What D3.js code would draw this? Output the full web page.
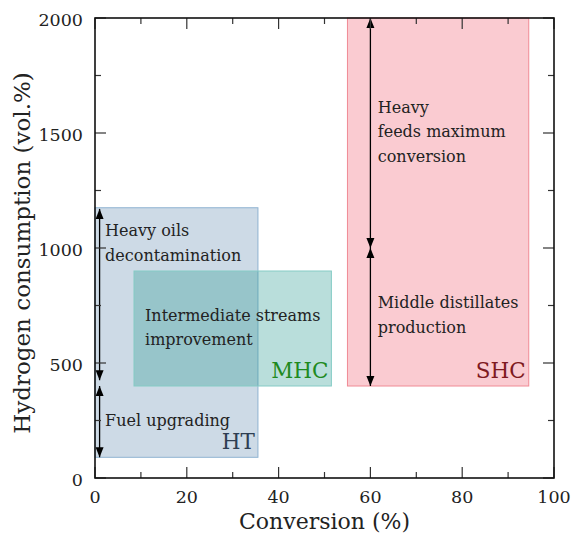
<!DOCTYPE html>
<html>
<head>
<meta charset="utf-8">
<script src="https://cdn.jsdelivr.net/npm/d3@7"></script>
<style>
  body { margin: 0; background: #fff; }
</style>
</head>
<body>
<div id="chart"></div>
<script>
// process windows: conversion (%) vs hydrogen consumption (vol.%)
const processes = ['HT', 'MHC', 'SHC'];
const convMin = [0, 8.5, 55];
const convMax = [35.5, 51.5, 94.5];
const h2Min = [90, 400, 400];
const h2Max = [1175, 900, 2000];

// double arrows: [x, from, to]
const arrows = [
  [1, 1170, 425],
  [1, 400, 90],
  [60, 2000, 1000],
  [60, 1000, 400]
];

// annotation lines: [x, y, text]
const notes = [
  [2.2, 1052, 'Heavy oils'],
  [2.2, 943, 'decontamination'],
  [10.9, 684, 'Intermediate streams'],
  [10.9, 578, 'improvement'],
  [2.2, 226, 'Fuel upgrading'],
  [61.6, 1587, 'Heavy'],
  [61.6, 1483, 'feeds maximum'],
  [61.6, 1374, 'conversion'],
  [61.6, 739, 'Middle distillates'],
  [61.6, 630, 'production']
];

const xTicks = [0, 20, 40, 60, 80, 100];
const yTicks = [0, 500, 1000, 1500, 2000];

const fills = { HT: '#4a7ba6', MHC: '#2a9a92', SHC: '#f06f80' };
const edges = { HT: '#8fb3d1', MHC: '#85cbc5', SHC: '#f08a94' };
const opac = { HT: 0.28, MHC: 0.33, SHC: 0.36 };
const labelColors = { HT: '#2e3e52', MHC: '#1f8a1f', SHC: '#7f1a1f' };

const FONT = "'DejaVu Serif', serif";

const width = 571, height = 535;
const margin = { top: 18, right: 17, bottom: 57, left: 95 };
const iw = width - margin.left - margin.right;
const ih = height - margin.top - margin.bottom;

const x = d3.scaleLinear().domain([0, 100]).range([0, iw]);
const y = d3.scaleLinear().domain([0, 2000]).range([ih, 0]);

const svg = d3.select('#chart').append('svg')
  .attr('width', width)
  .attr('height', height)
  .attr('font-family', FONT);

const g = svg.append('g')
  .attr('transform', `translate(${margin.left},${margin.top})`);

// arrow heads
svg.append('defs').append('marker')
  .attr('id', 'head')
  .attr('viewBox', '0 0 10 10')
  .attr('refX', 10).attr('refY', 5)
  .attr('markerWidth', 10).attr('markerHeight', 10)
  .attr('markerUnits', 'userSpaceOnUse')
  .attr('orient', 'auto-start-reverse')
  .append('path')
  .attr('d', 'M0,1 L10,5 L0,9 Z')
  .attr('fill', '#000');

// process rectangles
const rects = processes.map((p, i) => ({
  name: p, x0: convMin[i], x1: convMax[i], y0: h2Min[i], y1: h2Max[i]
}));

g.selectAll('rect.region')
  .data(rects)
  .join('rect')
  .classed('region', true)
  .attr('x', d => x(d.x0))
  .attr('y', d => y(d.y1))
  .attr('width', d => x(d.x1) - x(d.x0))
  .attr('height', d => y(d.y0) - y(d.y1))
  .attr('fill', d => fills[d.name])
  .attr('fill-opacity', d => opac[d.name])
  .attr('stroke', d => edges[d.name])
  .attr('stroke-width', 1);

// process labels, bottom-right corner of each box
g.selectAll('text.proc')
  .data(rects)
  .join('text')
  .classed('proc', true)
  .attr('x', d => x(d.x1) - 3)
  .attr('y', d => y(d.y0) - 8)
  .attr('text-anchor', 'end')
  .attr('font-size', 21.5)
  .attr('fill', d => labelColors[d.name])
  .text(d => d.name);

// arrows
g.selectAll('line.arrow')
  .data(arrows)
  .join('line')
  .classed('arrow', true)
  .attr('x1', d => x(d[0]))
  .attr('x2', d => x(d[0]))
  .attr('y1', d => y(d[1]))
  .attr('y2', d => y(d[2]))
  .attr('stroke', '#000')
  .attr('stroke-width', 1.3)
  .attr('marker-start', 'url(#head)')
  .attr('marker-end', 'url(#head)');

// annotations
g.selectAll('text.note')
  .data(notes)
  .join('text')
  .classed('note', true)
  .attr('x', d => x(d[0]))
  .attr('y', d => y(d[1]))
  .attr('font-size', 16)
  .attr('fill', '#222')
  .text(d => d[2]);

// ticks on all four sides, pointing inward
function tickList(scale, major, minorStep) {
  const [a, b] = scale.domain();
  return d3.range(a, b + 1e-9, minorStep).map(v => ({ v, major: major.includes(v) }));
}

const xt = tickList(x, xTicks, 10);
const yt = tickList(y, yTicks, 250);
const majLen = 11, minLen = 6;

const tickG = g.append('g').attr('stroke', '#333').attr('stroke-width', 1.2);
tickG.selectAll('line.xb').data(xt).join('line')
  .attr('x1', d => x(d.v)).attr('x2', d => x(d.v))
  .attr('y1', ih).attr('y2', d => ih - (d.major ? majLen : minLen));
tickG.selectAll('line.xt').data(xt).join('line')
  .attr('x1', d => x(d.v)).attr('x2', d => x(d.v))
  .attr('y1', 0).attr('y2', d => d.major ? majLen : minLen);
tickG.selectAll('line.yl').data(yt).join('line')
  .attr('y1', d => y(d.v)).attr('y2', d => y(d.v))
  .attr('x1', 0).attr('x2', d => d.major ? majLen : minLen);
tickG.selectAll('line.yr').data(yt).join('line')
  .attr('y1', d => y(d.v)).attr('y2', d => y(d.v))
  .attr('x1', iw).attr('x2', d => iw - (d.major ? majLen : minLen));

// frame
g.append('rect')
  .attr('width', iw).attr('height', ih)
  .attr('fill', 'none')
  .attr('stroke', '#111')
  .attr('stroke-width', 1.6);

// tick labels
g.selectAll('text.xl').data(xTicks).join('text')
  .attr('x', d => x(d)).attr('y', ih + 25)
  .attr('text-anchor', 'middle')
  .attr('font-size', 17.5)
  .attr('fill', '#222')
  .text(d => d);
g.selectAll('text.yl').data(yTicks).join('text')
  .attr('x', -12).attr('y', d => y(d) + 8)
  .attr('text-anchor', 'end')
  .attr('font-size', 17.5)
  .attr('fill', '#222')
  .text(d => d);

// axis titles
g.append('text')
  .attr('x', iw / 2).attr('y', ih + 51)
  .attr('text-anchor', 'middle')
  .attr('font-size', 22)
  .attr('fill', '#222')
  .text('Conversion (%)');
g.append('text')
  .attr('transform', `translate(${-65},${ih / 2 + 5}) rotate(-90)`)
  .attr('text-anchor', 'middle')
  .attr('font-size', 23)
  .attr('fill', '#222')
  .text('Hydrogen consumption (vol.%)');
</script>
</body>
</html>
